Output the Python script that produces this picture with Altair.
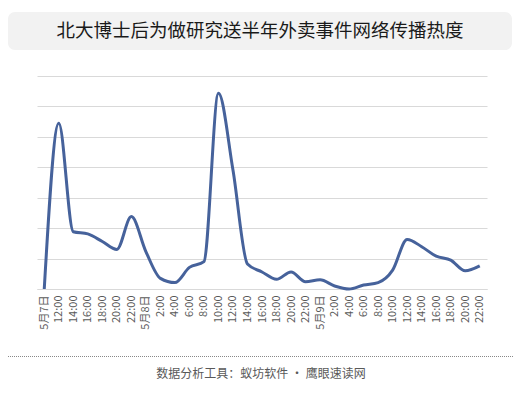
import altair as alt
import pandas as pd

labels = ["5月7日", "12:00", "14:00", "16:00", "18:00", "20:00", "22:00",
          "5月8日", "2:00", "4:00", "6:00", "8:00", "10:00", "12:00", "14:00",
          "16:00", "18:00", "20:00", "22:00",
          "5月9日", "2:00", "4:00", "6:00", "8:00", "10:00", "12:00", "14:00",
          "16:00", "18:00", "20:00", "22:00"]
values = [0.0, 5.45, 1.88, 1.81, 1.56, 1.30, 2.38, 1.23, 0.35, 0.21, 0.71, 0.90,
          6.43, 3.91, 0.82, 0.56, 0.32, 0.56, 0.24, 0.30, 0.10, 0.0, 0.13, 0.21,
          0.62, 1.63, 1.39, 1.08, 0.95, 0.60, 0.76]
grid_values = [0, 1, 2, 3, 4, 5, 6, 7]
title_text = "北大博士后为做研究送半年外卖事件网络传播热度"
footer_text = "数据分析工具：蚁坊软件 · 鹰眼速读网"

df = pd.DataFrame({"idx": list(range(len(values))), "v": values})
one = alt.Data(values=[{"a": 1}])
label_js = "[" + ",".join("'" + s + "'" for s in labels) + "]"

FONT = "Noto Sans CJK SC"

x_enc = alt.X("idx:O", title=None,
              scale=alt.Scale(type="point", padding=0.5),
              axis=alt.Axis(labelExpr=label_js + "[datum.value]", labelAngle=270,
                            labelFont=FONT, labelFontSize=11, labelColor="#595959",
                            labelPadding=6, ticks=False, domainColor="#d9d9d9",
                            grid=False, labelOverlap=False))
y_enc = alt.Y("v:Q", title=None,
              scale=alt.Scale(domain=[0, 7], nice=False),
              axis=alt.Axis(values=grid_values, labels=False, ticks=False, domain=False,
                            grid=True, gridColor="#d9d9d9", gridWidth=1))

line = alt.Chart(df).mark_line(interpolate="monotone", color="#46629b",
                               strokeWidth=3).encode(x=x_enc, y=y_enc)

title_box = alt.Chart(one).mark_rect(fill="#f2f2f2", cornerRadius=7).encode(
    x=alt.value(-29), x2=alt.value(475), y=alt.value(-64), y2=alt.value(-26))
title = alt.Chart(one).mark_text(text=title_text, font=FONT, fontSize=18.5,
                                 color="#1a1a1a", align="center", baseline="middle").encode(
    x=alt.value(223), y=alt.value(-45))
footer_line = alt.Chart(one).mark_rule(color="#888888", strokeWidth=1,
                                       strokeDash=[1, 1]).encode(
    x=alt.value(-29), x2=alt.value(476), y=alt.value(280.5))
footer = alt.Chart(one).mark_text(text=footer_text, font=FONT, fontSize=12,
                                  color="#595959", align="center", baseline="middle").encode(
    x=alt.value(224), y=alt.value(298))

chart = alt.layer(title_box, title, line, footer_line, footer).properties(
    width=450, height=213,
    padding={"left": 29, "top": 68, "right": 26, "bottom": 101},
    autosize=alt.AutoSizeParams(type="none"),
    background="white",
).configure_view(stroke=None)

chart.save("out.html", embed_options={"renderer": "svg", "actions": False})
